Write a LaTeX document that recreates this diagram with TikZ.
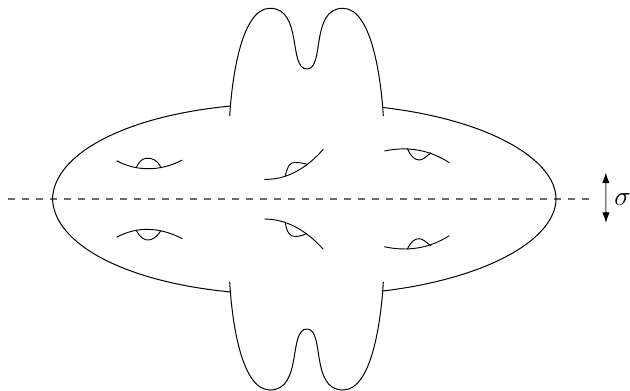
\documentclass[tikz,border=0pt]{standalone}
\usetikzlibrary{arrows.meta}
\tikzset{
  outline/.style={line width=0.75pt,black,line join=round},
  handle/.style={line width=0.7pt,black},
  axisline/.style={line width=1.2pt,black!58,dash pattern=on 5.6pt off 4.9pt},
  flip/.style={line width=0.8pt,black!75,{Latex[length=8pt,width=5.6pt,black]}-{Latex[length=8pt,width=5.6pt,black]}}
}
\begin{document}
\begin{tikzpicture}[x=0.75pt,y=-0.75pt]
\useasboundingbox (0,0) rectangle (630,391);
% axis
\coordinate (axisL) at (8,199);
\coordinate (axisR) at (595,199);
\draw[axisline] (axisL) -- (axisR);
% body
\draw[outline] (231,106) .. controls (125,116) and (54,154) .. (52.5,198.8)
  .. controls (54,244) and (125,282) .. (231,292);
\draw[outline] (383,107.5) .. controls (490,120) and (556,160) .. (556,198.8)
  .. controls (556,238) and (490,278) .. (383,291);
% top arms
\draw[outline] (229.7,116) .. controls (231.5,85) and (240,8.3) .. (270,8.3)
  .. controls (303,8.3) and (288,69) .. (307,69)
  .. controls (325,69) and (310,8.3) .. (343,8.3)
  .. controls (373,8.3) and (381.5,85) .. (383.3,116);
% bottom arms
\draw[outline] (229.7,282) .. controls (231.5,315) and (240,390) .. (270,390)
  .. controls (303,390) and (288,329) .. (307,329)
  .. controls (325,329) and (310,390) .. (343,390)
  .. controls (373,390) and (381.5,315) .. (383.3,282);
% handles: left
\draw[handle] (116.7,160.7) .. controls (135,171) and (160,172) .. (182.3,160);
\draw[handle] (136,168) .. controls (141,158) and (145,158.3) .. (147.7,158.3)
  .. controls (151,158.3) and (157,159) .. (160.7,167.3);
\draw[handle] (116.7,237.3) .. controls (137,226) and (160,227) .. (182.3,238.7);
\draw[handle] (136,230) .. controls (141,239) and (145,240) .. (148.3,240)
  .. controls (152,240) and (157,237) .. (160.7,231);
% handles: middle
\draw[handle] (264.3,179.3) .. controls (285,180) and (305,170) .. (323.3,149.3);
\draw[handle] (285,176.7) .. controls (288,165) and (290,162.5) .. (295,162.5)
  .. controls (299,162.5) and (303,163) .. (306.7,164.3);
\draw[handle] (264.3,219) .. controls (285,219) and (305,229) .. (323.3,249.3);
\draw[handle] (285,221.7) .. controls (287,233) and (290,236.5) .. (295,236.5)
  .. controls (299,236.5) and (303,235.5) .. (306.7,233.3);
% handles: right
\draw[handle] (384.3,151) .. controls (408,146) and (430,150) .. (449.3,162.7);
\draw[handle] (407.3,148.3) .. controls (411,157) and (415,160) .. (419.3,160)
  .. controls (423,160) and (427,156) .. (431,152.7);
\draw[handle] (384.3,246.7) .. controls (408,252) and (430,248) .. (449.3,235.7);
\draw[handle] (407.3,249.3) .. controls (411,241) and (415,238.7) .. (419.3,238.7)
  .. controls (423,238.7) and (427,243) .. (431,246);
% reflection
\coordinate (flipT) at (605.8,172.5);
\coordinate (flipB) at (606,223);
\draw[flip] (flipT) -- (flipB);
\node[inner sep=0pt] (sigmalabel) at (622.6,200) {\huge $\sigma$};
\end{tikzpicture}
\end{document}
